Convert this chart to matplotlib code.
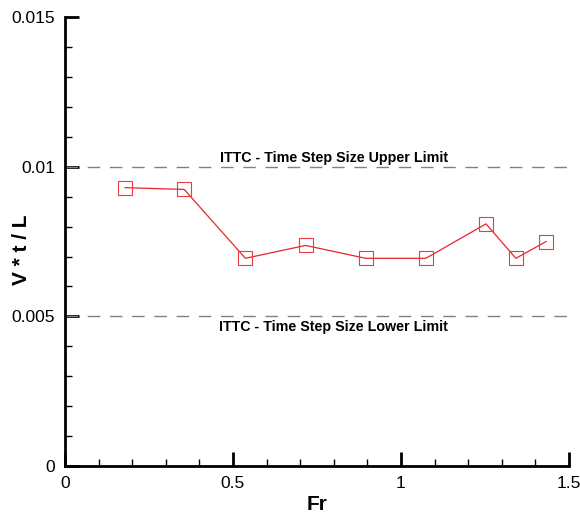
import numpy as np
import matplotlib
matplotlib.use("Agg")
import matplotlib.pyplot as plt
from matplotlib.ticker import MultipleLocator, FuncFormatter

plt.rcParams['font.family'] = ['Liberation Sans', 'DejaVu Sans']

# data
fr = [0.179, 0.355, 0.537, 0.716, 0.895, 1.074, 1.253, 1.342, 1.432]
vtl = [0.0093, 0.00924, 0.00694, 0.00737, 0.00694, 0.00694, 0.00809, 0.00694, 0.0075]
upper_limit = 0.01
lower_limit = 0.005

fig = plt.figure(figsize=(5.8, 5.15), dpi=100)
ax = fig.add_axes([0.112, 0.095, 0.869, 0.872])

# ITTC limits
ax.plot([0, 1.5], [upper_limit, upper_limit], color="#808080", lw=1.0, dashes=(9, 7))
ax.plot([0, 1.5], [lower_limit, lower_limit], color="#808080", lw=1.0, dashes=(9, 7))
ax.text(0.8, upper_limit + 0.00028, "ITTC - Time Step Size Upper Limit",
        ha="center", va="center", fontsize=10.3, fontweight="bold")
ax.text(0.8, lower_limit - 0.00036, "ITTC - Time Step Size Lower Limit",
        ha="center", va="center", fontsize=10.3, fontweight="bold")

ax.plot(fr, vtl, color="#e8242b", lw=0.9, marker="s", ms=10,
        mfc="none", mec="#ea3a40", mew=0.8)

ax.set_xlim(0, 1.5)
ax.set_ylim(0, 0.015)

ax.xaxis.set_major_locator(MultipleLocator(0.5))
ax.xaxis.set_minor_locator(MultipleLocator(0.1))
ax.yaxis.set_major_locator(MultipleLocator(0.005))
ax.yaxis.set_minor_locator(MultipleLocator(0.001))
ax.xaxis.set_major_formatter(FuncFormatter(lambda v, p: f"{v:g}"))
ax.yaxis.set_major_formatter(FuncFormatter(lambda v, p: f"{v:g}"))

for s in ["top", "right"]:
    ax.spines[s].set_visible(False)
for s in ["left", "bottom"]:
    ax.spines[s].set_linewidth(2)

ax.tick_params(which="major", direction="in", length=10, width=2, labelsize=12.5)
ax.tick_params(which="minor", direction="in", length=5, width=1)
ax.tick_params(axis="x", which="major", pad=7)
ax.tick_params(axis="y", which="major", pad=7)

ax.set_xlabel("Fr", fontsize=15, fontweight="bold", labelpad=3)
ax.set_ylabel("V * t / L", fontsize=15, fontweight="bold")
ax.yaxis.set_label_coords(-0.068, 0.481)

fig.savefig("out.png", dpi=100)
